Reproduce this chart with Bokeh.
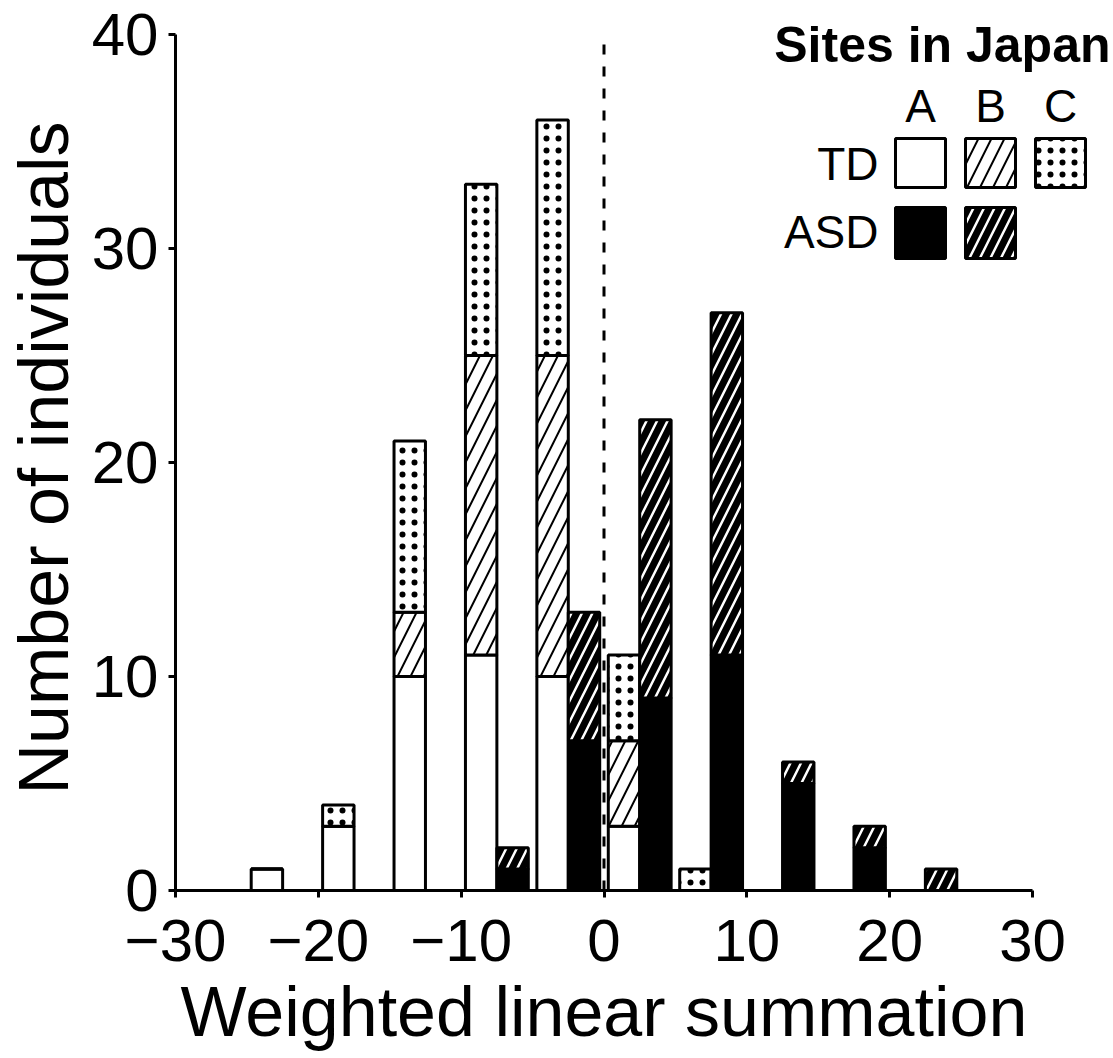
from bokeh.plotting import figure
from bokeh.models import Range1d, FixedTicker, ColumnDataSource, Title
from bokeh.embed import file_html
from bokeh.resources import INLINE
from bokeh.core.properties import value

# ---------------- data ----------------
bin_left = [-30, -25, -20, -15, -10, -5, 0, 5, 10, 15, 20, 25]   # 5-unit bins
td_site_a = [0, 1, 3, 10, 11, 10, 3, 0, 0, 0, 0, 0]
td_site_b = [0, 0, 0, 3, 14, 15, 4, 0, 0, 0, 0, 0]
td_site_c = [0, 0, 1, 8, 8, 11, 4, 1, 0, 0, 0, 0]
asd_bin_left = [-10, -5, 0, 5, 10, 15, 20]
asd_site_a = [1, 7, 9, 11, 5, 2, 0]
asd_site_b = [1, 6, 13, 16, 1, 1, 1]
x_ticks = [-30, -20, -10, 0, 10, 20, 30]
y_ticks = [0, 10, 20, 30, 40]
x_tick_labels = ["\u221230", "\u221220", "\u221210", "0", "10", "20", "30"]
site_labels = ["A", "B", "C"]
group_labels = ["TD", "ASD"]

# ---------------- layout ----------------
W, H = 1113, 1058
BL, BB = 175, 168
FW, FH = W - BL, H - BB
PXX = 857 / 60.0   # px per x unit (-30 at 175, 30 at 1032)
PXY = 856 / 40.0   # px per y unit (0 at 890, 40 at 34)
FONT = "Liberation Sans"
FONTV = value(FONT)

def dx(px):  # page px -> data x
    return -30 + (px - BL) / PXX

def dy(py):  # page px -> data y
    return (FH - py) / PXY

def dyt(py, fs):  # baseline correction for text
    return dy(py - 0.36 * fs)

p = figure(width=W, height=H, output_backend="svg", toolbar_location=None,
           x_range=Range1d(dx(BL), dx(W)), y_range=Range1d(dy(FH), dy(0)),
           min_border_left=BL, min_border_bottom=BB, min_border_top=0,
           min_border_right=0)
p.outline_line_color = None
p.xgrid.visible = False
p.ygrid.visible = False
p.background_fill_color = "white"
p.border_fill_color = "white"

BW = 2.2
def stack(lefts, offset, series):
    out = []
    base = [0] * len(lefts)
    for s in series:
        top = [b + v for b, v in zip(base, s)]
        out.append(ColumnDataSource(dict(
            left=[l + offset for l in lefts],
            right=[l + offset + BW for l in lefts],
            bottom=list(base), top=top)))
        base = top
    return out

td_a, td_b, td_c = stack(bin_left, 0.3, [td_site_a, td_site_b, td_site_c])
as_a, as_b = stack(asd_bin_left, 2.5, [asd_site_a, asd_site_b])

LW = 3
styles = {
    "td_a": dict(fill_color="white"),
    "td_b": dict(fill_color="white", hatch_pattern="/", hatch_color="black",
                 hatch_scale=26, hatch_weight=2),
    "td_c": dict(fill_color="white", hatch_pattern=".", hatch_color="black",
                 hatch_scale=12, hatch_weight=2.5),
    "as_a": dict(fill_color="black"),
    "as_b": dict(fill_color="black", hatch_pattern="/", hatch_color="white",
                 hatch_scale=21, hatch_weight=2.5),
}
for src, key in [(td_a, "td_a"), (td_b, "td_b"), (td_c, "td_c"),
                 (as_a, "as_a"), (as_b, "as_b")]:
    p.quad(left="left", right="right", bottom="bottom", top="top", source=src,
           line_color="black", line_width=LW, **styles[key])

# dashed zero line
p.segment(x0=[0], y0=[0], x1=[0], y1=[y_ticks[-1]], line_color="black",
          line_width=3, line_dash="10 12")

# ---------------- legend ----------------
p.text(x=[dx(1110)], y=[dyt(62, 50)], text=["Sites in Japan"], text_font=FONTV,
       text_font_size="50px", text_font_style="bold", text_align="right",
       text_baseline="alphabetic", text_color="black")
col_l = [895, 965, 1035]
p.text(x=[dx(c + 25) for c in col_l], y=[dyt(122, 46)] * 3, text=site_labels,
       text_font=FONTV, text_font_size="46px", text_align="center",
       text_baseline="alphabetic", text_color="black")
p.text(x=[dx(878)] * 2, y=[dyt(180, 46), dyt(248, 46)], text=group_labels,
       text_font=FONTV, text_font_size="46px", text_align="right",
       text_baseline="alphabetic", text_color="black")
row_tb = [(138, 187), (207, 258)]
leg = [(0, 0, "td_a"), (0, 1, "td_b"), (0, 2, "td_c"), (1, 0, "as_a"), (1, 1, "as_b")]
for r, c, key in leg:
    t, b = row_tb[r]
    p.quad(left=[dx(col_l[c])], right=[dx(col_l[c] + 50)], top=[dy(t)],
           bottom=[dy(b)], line_color="black", line_width=LW, **styles[key])

# ---------------- axes ----------------
for ax in (p.xaxis[0], p.yaxis[0]):
    ax.axis_line_width = 3
    ax.axis_line_color = "black"
    ax.major_tick_line_width = 3
    ax.major_tick_line_color = "black"
    ax.major_tick_out = 7
    ax.major_tick_in = 0
    ax.minor_tick_out = 0
    ax.minor_tick_in = 0
    ax.major_label_text_font = FONT
    ax.major_label_text_font_size = "60px"
    ax.major_label_text_color = "black"

p.xaxis.bounds = (x_ticks[0], x_ticks[-1])
p.yaxis.bounds = (y_ticks[0], y_ticks[-1])
p.xaxis.ticker = FixedTicker(ticks=x_ticks)
p.yaxis.ticker = FixedTicker(ticks=y_ticks)
p.xaxis.major_label_overrides = {t: s for t, s in zip(x_ticks, x_tick_labels)}
p.xaxis.major_label_standoff = 22
p.yaxis.major_label_standoff = 10

# axis titles (centred on the bounded axes)
p.add_layout(Title(text="Weighted linear summation", align="left", offset=5,
                   standoff=15, text_font=FONT, text_font_size="70px",
                   text_font_style="normal", text_color="black"), "below")
p.add_layout(Title(text="Number of individuals", align="left", offset=96,
                   standoff=8, vertical_align="top", text_font=FONT,
                   text_font_size="70px", text_font_style="normal",
                   text_color="black"), "left")

open("out.html", "w").write(file_html(p, INLINE))
